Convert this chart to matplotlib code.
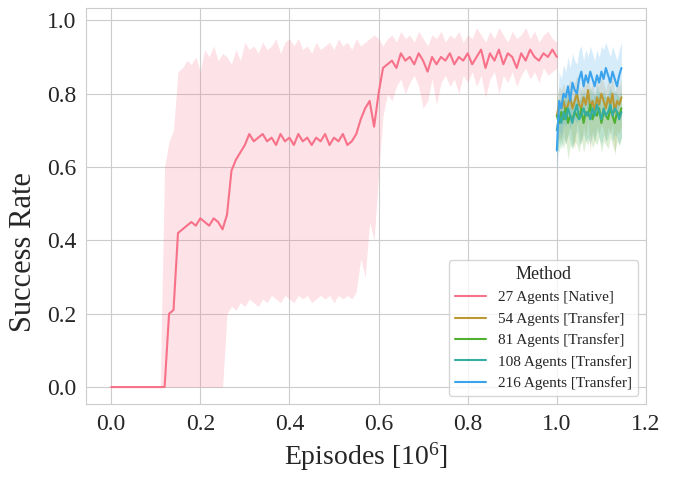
import numpy as np
import matplotlib
matplotlib.use('Agg')
import matplotlib.pyplot as plt
import seaborn as sns

# native training run (27 agents), sampled every 0.01 x 10^6 episodes
x_native = np.linspace(0.0, 1.0, 101)
mean_native = [
    0.00, 0.00, 0.00, 0.00, 0.00, 0.00, 0.00, 0.00, 0.00, 0.00,
    0.00, 0.00, 0.00, 0.20, 0.21, 0.42, 0.43, 0.44, 0.45, 0.44,
    0.46, 0.45, 0.44, 0.46, 0.45, 0.43, 0.47, 0.59, 0.62, 0.64,
    0.66, 0.69, 0.67, 0.68, 0.69, 0.67, 0.68, 0.66, 0.69, 0.67,
    0.68, 0.66, 0.69, 0.67, 0.68, 0.66, 0.68, 0.67, 0.69, 0.66,
    0.68, 0.67, 0.69, 0.66, 0.67, 0.69, 0.73, 0.76, 0.78, 0.71,
    0.80, 0.87, 0.88, 0.89, 0.87, 0.91, 0.89, 0.90, 0.88, 0.91,
    0.89, 0.86, 0.90, 0.88, 0.90, 0.89, 0.91, 0.88, 0.90, 0.89,
    0.91, 0.88, 0.90, 0.92, 0.87, 0.91, 0.89, 0.92, 0.88, 0.91,
    0.90, 0.87, 0.91, 0.89, 0.92, 0.90, 0.89, 0.91, 0.90, 0.92,
    0.90]
upper_native = [
    0.00, 0.00, 0.00, 0.00, 0.00, 0.00, 0.00, 0.00, 0.00, 0.00,
    0.00, 0.00, 0.60, 0.67, 0.70, 0.86, 0.87, 0.89, 0.88, 0.90,
    0.86, 0.92, 0.90, 0.93, 0.89, 0.91, 0.90, 0.88, 0.92, 0.89,
    0.94, 0.92, 0.93, 0.91, 0.94, 0.92, 0.93, 0.95, 0.91, 0.94,
    0.95, 0.93, 0.95, 0.92, 0.93, 0.91, 0.94, 0.92, 0.93, 0.94,
    0.92, 0.95, 0.93, 0.94, 0.92, 0.95, 0.93, 0.94, 0.95, 0.96,
    0.95, 0.93, 0.95, 0.96, 0.94, 0.97, 0.95, 0.96, 0.94, 0.97,
    0.95, 0.93, 0.96, 0.95, 0.97, 0.94, 0.96, 0.95, 0.97, 0.94,
    0.96, 0.95, 0.98, 0.96, 0.94, 0.97, 0.95, 0.98, 0.96, 0.94,
    0.97, 0.95, 0.96, 0.98, 0.95, 0.97, 0.94, 0.96, 0.97, 0.95,
    0.94]
lower_native = [
    0.00, 0.00, 0.00, 0.00, 0.00, 0.00, 0.00, 0.00, 0.00, 0.00,
    0.00, 0.00, 0.00, 0.00, 0.00, 0.00, 0.00, 0.00, 0.00, 0.00,
    0.00, 0.00, 0.00, 0.00, 0.00, 0.00, 0.20, 0.22, 0.21, 0.23,
    0.22, 0.24, 0.23, 0.22, 0.24, 0.23, 0.25, 0.24, 0.23, 0.25,
    0.24, 0.23, 0.25, 0.24, 0.25, 0.23, 0.24, 0.25, 0.24, 0.25,
    0.23, 0.25, 0.24, 0.25, 0.24, 0.26, 0.35, 0.30, 0.45, 0.40,
    0.58, 0.74, 0.80, 0.78, 0.82, 0.84, 0.80, 0.83, 0.85, 0.82,
    0.76, 0.78, 0.84, 0.77, 0.83, 0.85, 0.82, 0.84, 0.80, 0.85,
    0.83, 0.86, 0.82, 0.85, 0.79, 0.84, 0.86, 0.80, 0.85, 0.83,
    0.86, 0.82, 0.85, 0.87, 0.84, 0.86, 0.83, 0.87, 0.85, 0.86,
    0.87]

# transfer runs, sampled every 0.005 x 10^6 episodes from 1.0
x_transfer = np.linspace(1.0, 1.145, 30)
mean_54 = [0.74, 0.77, 0.76, 0.78, 0.75, 0.77, 0.79, 0.76, 0.78, 0.80,
           0.77, 0.76, 0.79, 0.77, 0.81, 0.76, 0.78, 0.75, 0.79, 0.77,
           0.80, 0.78, 0.76, 0.79, 0.77, 0.80, 0.75, 0.78, 0.77, 0.79]
upper_54 = [0.79, 0.82, 0.81, 0.83, 0.80, 0.82, 0.84, 0.81, 0.83, 0.85,
            0.82, 0.81, 0.84, 0.82, 0.86, 0.81, 0.83, 0.80, 0.84, 0.82,
            0.85, 0.83, 0.81, 0.84, 0.82, 0.85, 0.80, 0.83, 0.82, 0.84]
lower_54 = [0.66, 0.68, 0.67, 0.70, 0.66, 0.69, 0.71, 0.67, 0.65, 0.72,
            0.69, 0.66, 0.71, 0.68, 0.73, 0.64, 0.70, 0.67, 0.71, 0.69,
            0.72, 0.70, 0.67, 0.71, 0.69, 0.72, 0.63, 0.70, 0.69, 0.71]

mean_81 = [0.74, 0.72, 0.75, 0.73, 0.76, 0.72, 0.74, 0.73, 0.75, 0.74,
           0.73, 0.76, 0.72, 0.75, 0.74, 0.77, 0.73, 0.75, 0.74, 0.76,
           0.72, 0.75, 0.74, 0.73, 0.76, 0.74, 0.72, 0.75, 0.74, 0.76]
upper_81 = [0.79, 0.77, 0.80, 0.78, 0.81, 0.77, 0.79, 0.78, 0.80, 0.79,
            0.78, 0.81, 0.77, 0.80, 0.79, 0.82, 0.78, 0.80, 0.79, 0.81,
            0.77, 0.80, 0.79, 0.78, 0.81, 0.79, 0.77, 0.80, 0.79, 0.81]
lower_81 = [0.66, 0.64, 0.67, 0.65, 0.68, 0.62, 0.66, 0.65, 0.67, 0.66,
            0.64, 0.68, 0.64, 0.67, 0.66, 0.69, 0.65, 0.67, 0.66, 0.68,
            0.64, 0.67, 0.66, 0.65, 0.68, 0.66, 0.64, 0.67, 0.66, 0.68]

mean_108 = [0.70, 0.74, 0.72, 0.75, 0.73, 0.76, 0.74, 0.72, 0.75, 0.77,
            0.73, 0.74, 0.76, 0.74, 0.75, 0.73, 0.76, 0.74, 0.77, 0.75,
            0.73, 0.76, 0.74, 0.75, 0.77, 0.74, 0.76, 0.75, 0.73, 0.75]
upper_108 = [0.75, 0.79, 0.77, 0.80, 0.78, 0.81, 0.79, 0.77, 0.80, 0.82,
             0.78, 0.79, 0.81, 0.79, 0.80, 0.78, 0.81, 0.79, 0.82, 0.80,
             0.78, 0.81, 0.79, 0.80, 0.82, 0.79, 0.81, 0.80, 0.78, 0.80]
lower_108 = [0.62, 0.67, 0.65, 0.68, 0.66, 0.69, 0.67, 0.65, 0.68, 0.70,
             0.66, 0.67, 0.69, 0.67, 0.68, 0.66, 0.69, 0.67, 0.70, 0.68,
             0.66, 0.69, 0.67, 0.68, 0.70, 0.67, 0.69, 0.68, 0.66, 0.68]

mean_216 = [0.645, 0.78, 0.76, 0.80, 0.79, 0.82, 0.78, 0.83, 0.81, 0.80,
            0.84, 0.86, 0.82, 0.85, 0.83, 0.86, 0.84, 0.82, 0.85, 0.83,
            0.86, 0.84, 0.87, 0.85, 0.83, 0.86, 0.84, 0.82, 0.85, 0.87]
upper_216 = [0.72, 0.86, 0.84, 0.88, 0.86, 0.90, 0.87, 0.91, 0.89, 0.88,
             0.92, 0.93, 0.89, 0.92, 0.90, 0.93, 0.91, 0.89, 0.92, 0.90,
             0.93, 0.92, 0.94, 0.92, 0.90, 0.93, 0.91, 0.89, 0.92, 0.94]
lower_216 = [0.57, 0.70, 0.68, 0.72, 0.71, 0.74, 0.70, 0.75, 0.73, 0.72,
             0.76, 0.78, 0.74, 0.77, 0.75, 0.78, 0.76, 0.74, 0.77, 0.75,
             0.78, 0.76, 0.79, 0.77, 0.75, 0.78, 0.76, 0.74, 0.77, 0.80]

labels = ['27 Agents [Native]', '54 Agents [Transfer]', '81 Agents [Transfer]',
          '108 Agents [Transfer]', '216 Agents [Transfer]']

sns.set_style('whitegrid')
plt.rcParams['font.family'] = ['Liberation Serif', 'DejaVu Serif']
plt.rcParams['mathtext.fontset'] = 'custom'
plt.rcParams['mathtext.rm'] = 'Liberation Serif'
plt.rcParams['mathtext.it'] = 'Liberation Serif:italic'

colors = sns.color_palette('husl', 6)

fig, ax = plt.subplots(figsize=(6.75, 4.82), dpi=100)
fig.subplots_adjust(left=0.127, right=0.957, bottom=0.162, top=0.983)

series = [
    (x_native, mean_native, lower_native, upper_native),
    (x_transfer, mean_54, lower_54, upper_54),
    (x_transfer, mean_81, lower_81, upper_81),
    (x_transfer, mean_108, lower_108, upper_108),
    (x_transfer, mean_216, lower_216, upper_216),
]
for i, (xs, m, lo, hi) in enumerate(series):
    ax.fill_between(xs, lo, hi, color=colors[i], alpha=0.2, linewidth=0)
    ax.plot(xs, m, color=colors[i], linewidth=1.5, label=labels[i])

ax.set_xlim(-0.057, 1.2)
ax.set_ylim(-0.046, 1.033)
ax.set_xticks([0.0, 0.2, 0.4, 0.6, 0.8, 1.0, 1.2])
ax.set_yticks([0.0, 0.2, 0.4, 0.6, 0.8, 1.0])
ax.tick_params(labelsize=17)
ax.set_xlabel(r'Episodes [$10^6$]', fontsize=20)
ax.set_ylabel('Success Rate', fontsize=22)
ax.yaxis.set_label_coords(-0.086, 0.385)

leg = ax.legend(title='Method', loc='lower right', fontsize=11, title_fontsize=13)

fig.savefig('out.png', dpi=100)
